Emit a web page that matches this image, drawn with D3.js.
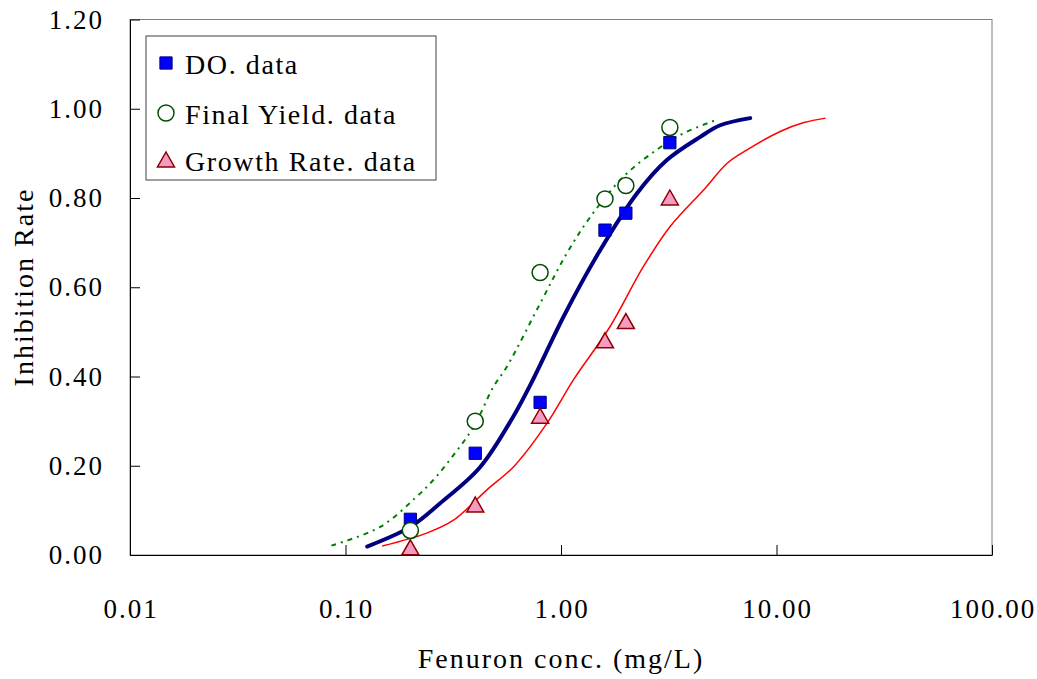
<!DOCTYPE html>
<html>
<head>
<meta charset="utf-8">
<script src="https://cdn.jsdelivr.net/npm/d3@7"></script>
<style>
  html, body { margin: 0; padding: 0; background: #fff; }
  svg { display: block; font-family: "Liberation Serif", "Times New Roman", serif; }
</style>
</head>
<body>
<div id="chart"></div>
<script>
// measured points (conc. in mg/L)
const conc = [0.2, 0.4, 0.8, 1.6, 2.0, 3.2];
const doData = [0.08, 0.228, 0.342, 0.728, 0.766, 0.924];
const yieldData = [0.055, 0.300, 0.633, 0.798, 0.828, 0.958];
const growthData = [0.016, 0.112, 0.311, 0.48, 0.523, 0.80];

// fitted curves
const doCurveX = [0.126, 0.2, 0.275, 0.42, 0.60, 0.745, 1.03, 1.49, 2.25, 3.1, 4.43, 5.48, 7.55];
const doCurveY = [0.019, 0.063, 0.116, 0.196, 0.31, 0.395, 0.535, 0.676, 0.81, 0.885, 0.937, 0.963, 0.979];
const yieldCurveX = [0.086, 0.145, 0.21, 0.26, 0.317, 0.393, 0.486, 0.561, 0.815, 1.064, 1.37, 1.95, 2.78, 3.7, 5.33];
const yieldCurveY = [0.021, 0.063, 0.127, 0.172, 0.224, 0.287, 0.377, 0.422, 0.571, 0.676, 0.758, 0.848, 0.908, 0.945, 0.976];
const growthCurveX = [0.148, 0.238, 0.317, 0.453, 0.603, 0.86, 1.14, 1.69, 2.41, 3.21, 4.67, 5.9, 7.3, 10.4, 13.4, 16.9];
const growthCurveY = [0.02, 0.049, 0.078, 0.146, 0.198, 0.295, 0.392, 0.512, 0.646, 0.736, 0.822, 0.878, 0.908, 0.949, 0.969, 0.979];

const xTicks = [0.01, 0.1, 1, 10, 100];
const yTicks = [0, 0.2, 0.4, 0.6, 0.8, 1.0, 1.2];
const legendLabels = ["DO. data", "Final Yield. data", "Growth Rate. data"];

const width = 1037, height = 679;
const plotL = 130, plotR = 992, plotT = 19.5, plotB = 555;

const x = d3.scaleLog().domain([0.01, 100]).range([plotL, plotR]);
const y = d3.scaleLinear().domain([0, 1.2]).range([plotB, plotT]);

const svg = d3.select("#chart").append("svg")
  .attr("width", width)
  .attr("height", height);

// plot frame
svg.append("rect")
  .attr("x", plotL).attr("y", plotT)
  .attr("width", plotR - plotL).attr("height", plotB - plotT)
  .attr("fill", "none").attr("stroke", "#808080").attr("stroke-width", 1);

// y axis (ticks inside)
const yAxis = svg.append("g")
  .attr("transform", `translate(${plotL},0)`)
  .call(d3.axisRight(y).tickValues(yTicks).tickSize(10).tickSizeOuter(0).tickFormat(""));
yAxis.select(".domain").attr("stroke", "#000");
yAxis.selectAll("line").attr("stroke", "#000");

svg.append("g").selectAll("text")
  .data(yTicks).join("text")
  .attr("x", plotL - 26)
  .attr("y", d => y(d) + 9)
  .attr("text-anchor", "end")
  .attr("font-size", 27)
  .attr("letter-spacing", 2)
  .attr("fill", "#000")
  .text(d3.format(".2f"));

// x axis (ticks inside)
const xAxis = svg.append("g")
  .attr("transform", `translate(0,${plotB})`)
  .call(d3.axisTop(x).tickValues(xTicks).tickSize(10).tickSizeOuter(0).tickFormat(""));
xAxis.select(".domain").attr("stroke", "#000");
xAxis.selectAll("line").attr("stroke", "#000");

svg.append("g").selectAll("text")
  .data(xTicks).join("text")
  .attr("x", d => x(d) + 1)
  .attr("y", 618)
  .attr("text-anchor", "middle")
  .attr("font-size", 27)
  .attr("letter-spacing", 2)
  .attr("fill", "#000")
  .text(d3.format(".2f"));

// axis titles
svg.append("text")
  .attr("x", (plotL + plotR) / 2)
  .attr("y", 668)
  .attr("text-anchor", "middle")
  .attr("font-size", 28)
  .attr("letter-spacing", 2)
  .text("Fenuron conc. (mg/L)");

svg.append("text")
  .attr("transform", "translate(33,287) rotate(-90)")
  .attr("text-anchor", "middle")
  .attr("font-size", 28)
  .attr("letter-spacing", 2)
  .text("Inhibition Rate");

// curves
const line = d3.line()
  .x(d => x(d[0]))
  .y(d => y(d[1]))
  .curve(d3.curveCatmullRom.alpha(0.5));

svg.append("path")
  .datum(d3.zip(growthCurveX, growthCurveY))
  .attr("d", line)
  .attr("fill", "none").attr("stroke", "#ff0000").attr("stroke-width", 1.5);

svg.append("path")
  .datum(d3.zip(yieldCurveX, yieldCurveY))
  .attr("d", line)
  .attr("fill", "none").attr("stroke", "#008000").attr("stroke-width", 2)
  .attr("stroke-dasharray", "5,5,2,5");

svg.append("path")
  .datum(d3.zip(doCurveX, doCurveY))
  .attr("d", line)
  .attr("fill", "none").attr("stroke", "#000080").attr("stroke-width", 4)
  .attr("stroke-linecap", "round");

// markers
const square = d3.symbol().type(d3.symbolSquare).size(150);
const triangle = (cx, cy) => `M${cx},${cy - 8}L${cx + 8.5},${cy + 7}L${cx - 8.5},${cy + 7}Z`;

function drawSquare(g, cx, cy) {
  g.append("path").attr("d", square())
    .attr("transform", `translate(${cx},${cy})`)
    .attr("fill", "#0000ff").attr("stroke", "#000080").attr("stroke-width", 1);
}
function drawCircle(g, cx, cy) {
  g.append("circle").attr("cx", cx).attr("cy", cy).attr("r", 8)
    .attr("fill", "#fff").attr("stroke", "#004d00").attr("stroke-width", 1.5);
}
function drawTriangle(g, cx, cy) {
  g.append("path").attr("d", triangle(cx, cy))
    .attr("fill", "#f59ac0").attr("stroke", "#8b0000").attr("stroke-width", 1.5);
}

const marks = svg.append("g");
conc.forEach((c, i) => drawSquare(marks, x(c), y(doData[i])));
conc.forEach((c, i) => drawCircle(marks, x(c), y(yieldData[i])));
conc.forEach((c, i) => drawTriangle(marks, x(c), y(growthData[i])));

// legend
const legend = svg.append("g");
legend.append("rect")
  .attr("x", 146).attr("y", 36).attr("width", 290).attr("height", 144)
  .attr("fill", "#fff").attr("stroke", "#404040").attr("stroke-width", 1);

const rowY = [63, 113, 160];
drawSquare(legend, 166, rowY[0]);
drawCircle(legend, 166, rowY[1]);
drawTriangle(legend, 166, rowY[2]);

legend.selectAll("text.lab")
  .data(legendLabels).join("text")
  .attr("class", "lab")
  .attr("x", 185)
  .attr("y", (d, i) => rowY[i] + 11)
  .attr("font-size", 28)
  .attr("letter-spacing", 1.6)
  .text(d => d);
</script>
</body>
</html>
